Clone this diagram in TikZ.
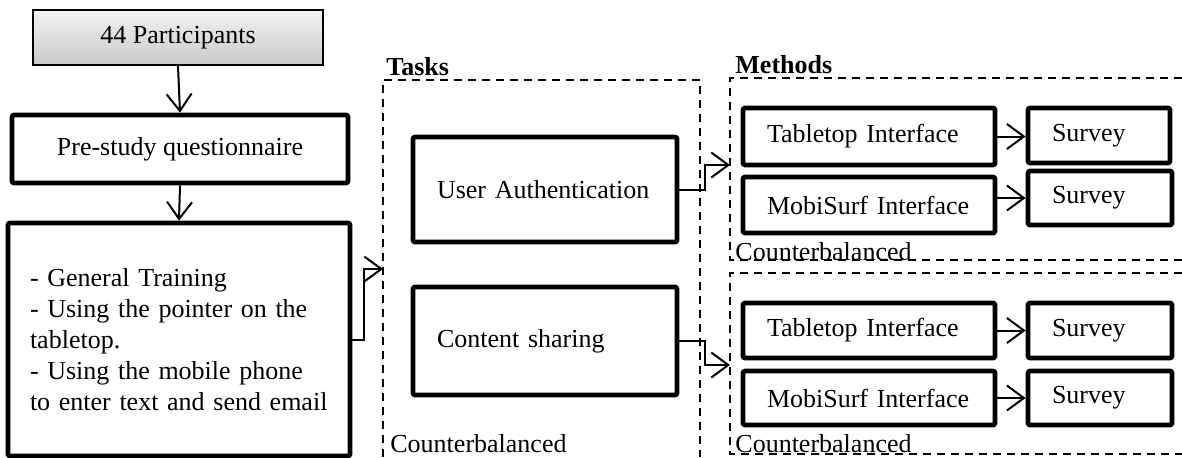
\documentclass[tikz,border=0pt]{standalone}
\usepackage{fontspec}
\setmainfont{Liberation Serif}
\usetikzlibrary{arrows.meta}
\begin{document}
\begin{tikzpicture}[x=0.5pt,y=-0.5pt,
  every node/.style={font=\fontsize{13}{15.5}\selectfont},
  thickbox/.style={draw, line width=2.4pt, line join=round, rounded corners=1pt, inner xsep=12pt, inner ysep=0pt, align=left},
  arr/.style={-{Straight Barb[length=8.5pt,width=12.5pt]}, line width=1pt},
  dashedline/.style={line width=1pt, dash pattern=on 4pt off 3pt},
  lbl/.style={inner sep=0pt, anchor=base west}]
\useasboundingbox (0,0) rectangle (1182,457);

% left column
\node[draw, line width=0.8pt, top color=gray!10, bottom color=gray!42, minimum width=145pt, minimum height=27.5pt, inner sep=0pt] (p44) at (178,37.5) {44 Participants};
\node[thickbox, align=center, minimum width=168pt, minimum height=34pt] (pre) at (180,149) {Pre-study questionnaire};
\node[thickbox, inner xsep=11pt, text width=149pt, minimum height=116.5pt] (train) at (179,339.5)
  {- General Training\\- Using the pointer on the\\tabletop.\\- Using the mobile phone\\\mbox{to enter text and send email}};

% tasks
\draw[dashedline] (383,457) -- (383,80) -- (700,80) -- (700,457);
\node[lbl, font=\fontsize{13}{15.5}\selectfont\bfseries] (tasks) at (386,75) {Tasks};
\node[lbl] (cb0) at (390,452) {Counterbalanced};
\coordinate (tasksin) at (383,269);
\node[thickbox, text width=108pt, minimum height=52.5pt] (ua) at (545,189.5) {\mbox{User Authentication}};
\node[thickbox, text width=108pt, minimum height=54pt] (cs) at (545,341) {\mbox{Content sharing}};

% methods
\draw[dashedline] (1182,78) -- (730,78) -- (730,260) -- (1182,260);
\draw[dashedline] (1182,273) -- (730,273) -- (730,454) -- (1182,454);
\node[lbl, font=\fontsize{13}{15.5}\selectfont\bfseries] (methods) at (735,73) {Methods};
\node[lbl] (cb1) at (735,260) {Counterbalanced};
\node[lbl] (cb2) at (735,452) {Counterbalanced};
\coordinate (m1in) at (730,165);
\coordinate (m2in) at (730,365);

\node[thickbox, text width=102pt, minimum height=28.5pt] (tt1) at (869,136.5) {\mbox{Tabletop Interface}};
\node[thickbox, text width=47pt, minimum height=27.5pt] (sv1) at (1099,135.5) {\mbox{Survey}};
\node[thickbox, text width=102pt, minimum height=28pt] (ms1) at (869,205) {\mbox{MobiSurf Interface}};
\node[thickbox, text width=48pt, minimum height=27pt] (sv2) at (1100,198) {\mbox{Survey}};

\node[thickbox, text width=102pt, minimum height=27.5pt] (tt2) at (869,330.5) {\mbox{Tabletop Interface}};
\node[thickbox, text width=48pt, minimum height=27.5pt] (sv3) at (1100,330.5) {\mbox{Survey}};
\node[thickbox, text width=102pt, minimum height=27pt] (ms2) at (869,398) {\mbox{MobiSurf Interface}};
\node[thickbox, text width=48pt, minimum height=27pt] (sv4) at (1100,398) {\mbox{Survey}};

% connectors
\draw[arr] (p44.south) -- (pre.north);
\draw[arr] (pre.south) -- (train.north);
\draw[arr] (train.east) -- ++(12,0) |- (tasksin);
\draw[arr] (ua.east) -- ++(26,0) |- (m1in);
\draw[arr] (cs.east) -- ++(26,0) |- (m2in);
\draw[arr] (tt1.east) -- (tt1.east -| sv1.west);
\draw[arr] (ms1.east |- sv2.west) -- (sv2.west);
\draw[arr] (tt2.east) -- (sv3.west);
\draw[arr] (ms2.east) -- (sv4.west);
\end{tikzpicture}
\end{document}
